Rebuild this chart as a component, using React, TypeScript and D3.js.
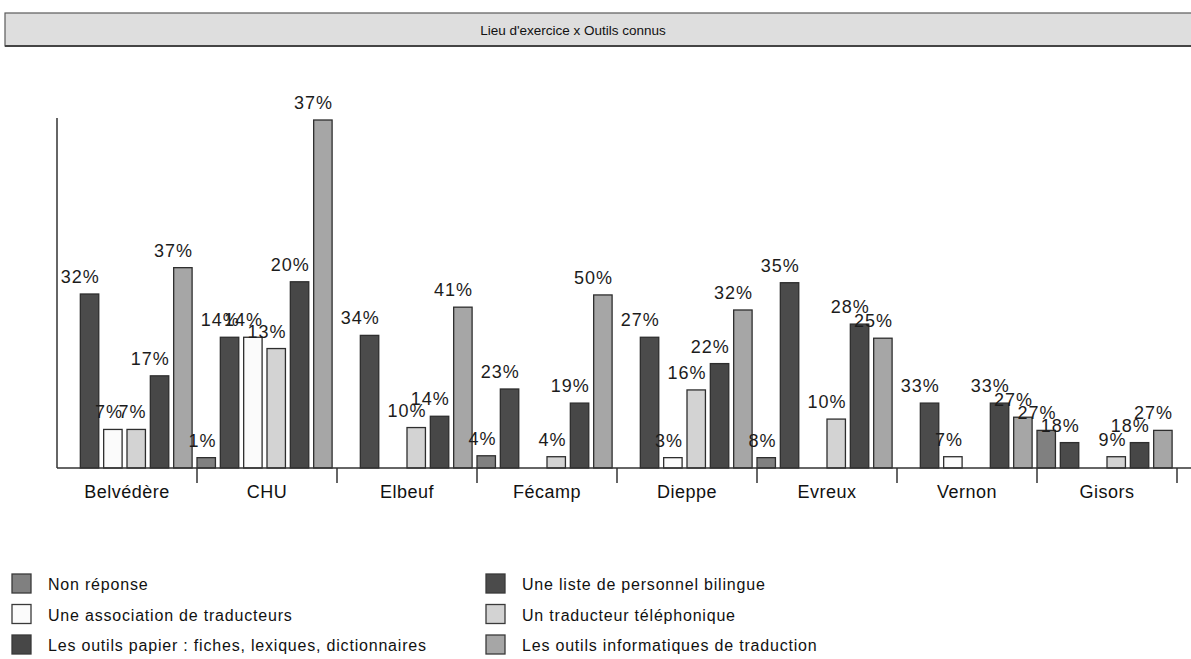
import * as d3 from "d3";

// sites (groupes de barres)
const sites = ["Belvédère", "CHU", "Elbeuf", "Fécamp", "Dieppe", "Evreux", "Vernon", "Gisors"];

// hauteurs des barres (effectifs relatifs)
const nonReponse = [0, 1.1, 0, 1.3, 0, 1.1, 0, 4.0];
const listeBilingue = [18.5, 13.9, 14.1, 8.4, 13.9, 19.7, 6.9, 2.7];
const association = [4.1, 13.9, 0, 0, 1.1, 0, 1.2, 0];
const telephonique = [4.1, 12.7, 4.3, 1.2, 8.3, 5.2, 0, 1.2];
const papier = [9.8, 19.8, 5.5, 6.9, 11.1, 15.3, 6.9, 2.7];
const informatiques = [21.3, 37, 17.1, 18.4, 16.8, 13.8, 5.4, 4.0];

// pourcentages affichés au-dessus des barres
const nonReponseLbl = ["", "1%", "", "4%", "", "8%", "", "27%"];
const listeLbl = ["32%", "14%", "34%", "23%", "27%", "35%", "33%", "18%"];
const associationLbl = ["7%", "14%", "", "", "3%", "", "7%", ""];
const telephoniqueLbl = ["7%", "13%", "10%", "4%", "16%", "10%", "", "9%"];
const papierLbl = ["17%", "20%", "14%", "19%", "22%", "28%", "33%", "18%"];
const informatiquesLbl = ["37%", "37%", "41%", "50%", "32%", "25%", "27%", "27%"];

const series = [
  { key: "nr", name: "Non réponse", values: nonReponse, labels: nonReponseLbl },
  { key: "lb", name: "Une liste de personnel bilingue", values: listeBilingue, labels: listeLbl },
  { key: "as", name: "Une association de traducteurs", values: association, labels: associationLbl },
  { key: "tt", name: "Un traducteur téléphonique", values: telephonique, labels: telephoniqueLbl },
  { key: "op", name: "Les outils papier : fiches, lexiques, dictionnaires", values: papier, labels: papierLbl },
  { key: "oi", name: "Les outils informatiques de traduction", values: informatiques, labels: informatiquesLbl },
];

const fills: Record<string, string> = {
  nr: "#808080",
  lb: "#4b4b4b",
  as: "#fbfbfb",
  tt: "#d3d3d3",
  op: "#474747",
  oi: "#a6a6a6",
};

// ordre de la légende : deux colonnes
const legendLeft = ["nr", "as", "op"];
const legendRight = ["lb", "tt", "oi"];

const font = "'Liberation Sans', Arial, sans-serif";

export default function App() {
  const width = 1191;
  const height = 659;
  const baseY = 468;
  const left = 57;
  const groupW = 140;

  const x0 = d3.scaleBand<string>().domain(sites).range([left, left + groupW * sites.length]).padding(0);
  const x1 = d3
    .scaleBand<string>()
    .domain(series.map((s) => s.key))
    .range([0, x0.bandwidth()])
    .paddingInner(0.21)
    .paddingOuter(0.105)
    .align(0);
  const y = d3.scaleLinear().domain([0, 37]).range([baseY, 120]);

  const legendRow = (keys: string[], lx: number) =>
    keys.map((k, i) => {
      const s = series.find((d) => d.key === k)!;
      const ly = 574 + i * 30.5;
      return (
        <g key={k}>
          <rect x={lx} y={ly} width={19} height={19} fill={fills[k]} stroke="#3a3a3a" strokeWidth={1.3} />
          <text x={lx + 36} y={ly + 16} fontSize={16} letterSpacing={0.8} fill="#111" fontFamily={font}>
            {s.name}
          </text>
        </g>
      );
    });

  return (
    <svg width={width} height={height} style={{ position: "absolute", left: 0, top: 0, background: "#fff" }}>
      {/* bandeau de titre */}
      <rect x={5} y={13} width={1200} height={33} fill="#dedede" stroke="#5a5a5a" strokeWidth={1.2} />
      <line x1={5} x2={1191} y1={46} y2={46} stroke="#444" strokeWidth={2} />
      <text x={573} y={35} textAnchor="middle" fontSize={13.5} fill="#111" fontFamily={font}>
        Lieu d'exercice x Outils connus
      </text>

      {/* barres */}
      {sites.map((site, i) => (
        <g key={site} transform={`translate(${x0(site)},0)`}>
          {series.map((s) =>
            s.values[i] > 0 ? (
              <rect
                key={s.key}
                x={x1(s.key)}
                y={y(s.values[i])}
                width={x1.bandwidth()}
                height={baseY - y(s.values[i])}
                fill={fills[s.key]}
                stroke="#2e2e2e"
                strokeWidth={1.3}
              />
            ) : null
          )}
        </g>
      ))}

      {/* étiquettes */}
      {sites.map((site, i) => (
        <g key={site + "-lbl"} transform={`translate(${x0(site)},0)`}>
          {series.map((s) =>
            s.labels[i] ? (
              <text
                key={s.key}
                x={(x1(s.key) ?? 0) + x1.bandwidth() + 1}
                y={y(s.values[i]) - 11}
                textAnchor="end"
                fontSize={18}
                letterSpacing={1}
                fill="#1c1c1c"
                fontFamily={font}
              >
                {s.labels[i]}
              </text>
            ) : null
          )}
        </g>
      ))}

      {/* axes */}
      <line x1={left} x2={left} y1={118} y2={baseY} stroke="#333" strokeWidth={1.5} />
      <line x1={left} x2={width} y1={baseY} y2={baseY} stroke="#333" strokeWidth={1.5} />
      {sites.map((site) => (
        <line
          key={site + "-tick"}
          x1={(x0(site) ?? 0) + x0.bandwidth()}
          x2={(x0(site) ?? 0) + x0.bandwidth()}
          y1={baseY}
          y2={baseY + 15}
          stroke="#333"
          strokeWidth={1.5}
        />
      ))}
      {sites.map((site) => (
        <text
          key={site + "-name"}
          x={(x0(site) ?? 0) + x0.bandwidth() / 2}
          y={498}
          textAnchor="middle"
          fontSize={18}
          letterSpacing={0.5}
          fill="#111"
          fontFamily={font}
        >
          {site}
        </text>
      ))}

      {/* légende */}
      {legendRow(legendLeft, 12)}
      {legendRow(legendRight, 486)}
    </svg>
  );
}
